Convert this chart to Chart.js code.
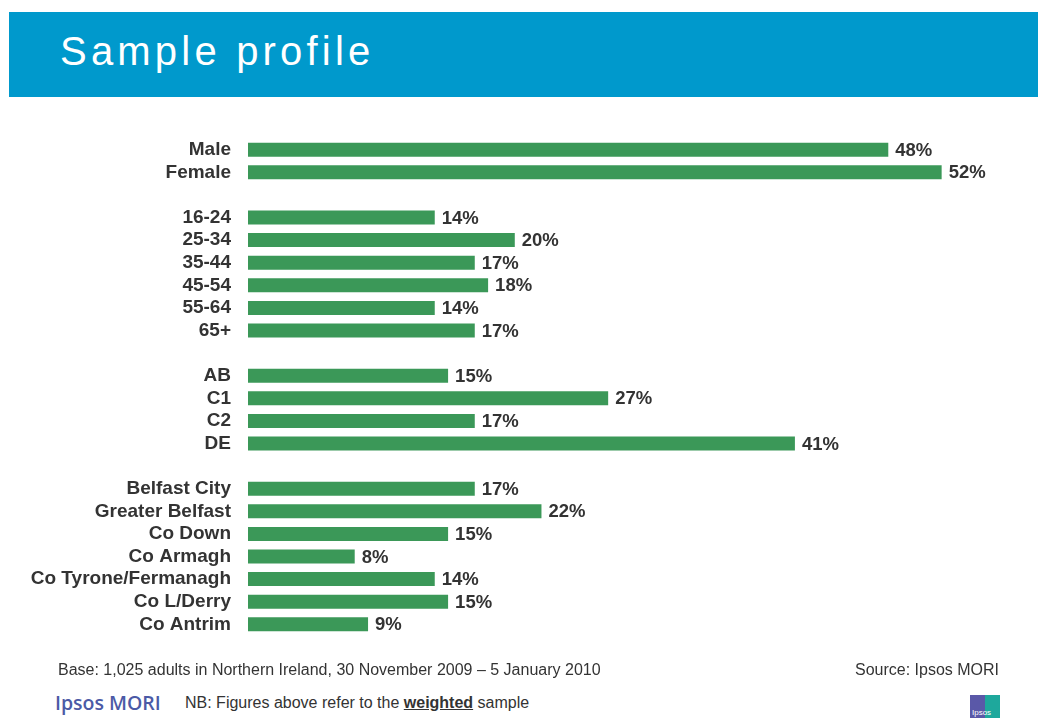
<!DOCTYPE html>
<html>
<head>
<meta charset="utf-8">
<script src="https://cdn.jsdelivr.net/npm/chart.js@4.4.1/dist/chart.umd.min.js"></script>
<style>
  html, body { margin: 0; padding: 0; background: #ffffff; width: 1038px; height: 718px; overflow: hidden; position: relative; font-family: "Liberation Sans", Arial, sans-serif; }
  #header { position: absolute; left: 9px; top: 12px; width: 1029px; height: 85px; background: #0099cc; }
  #title { position: absolute; left: 51px; top: 16px; font-family: "Liberation Sans", Arial, sans-serif; font-size: 40px; line-height: 46px; color: #ffffff; letter-spacing: 4.2px; font-weight: normal; }
  #chartWrap { position: absolute; left: 0; top: 110px; width: 1038px; height: 554px; }
  .foot { position: absolute; font-size: 16px; color: #333333; white-space: nowrap; line-height: 18px; }
  #base { left: 58px; top: 661px; }
  #source { right: 39px; top: 661px; }
  #nb { left: 185px; top: 694px; }
  #nb b { text-decoration: underline; }
  #brand { position: absolute; left: 55px; top: 691px; font-family: "Open Sans", "Liberation Sans", sans-serif; font-weight: 600; font-size: 19.5px; color: #4b5aa6; line-height: 24px; }
  #logo { position: absolute; left: 970px; top: 695px; width: 30px; height: 23px; overflow: hidden; }
  #logo .l { position: absolute; left: 0; top: 0; width: 15px; height: 23px; background: #5a58a8; }
  #logo .r { position: absolute; left: 15px; top: 0; width: 15px; height: 23px; background: #1ea89c; }
  #logo .t { position: absolute; left: 2px; top: 13px; font-size: 8px; color: #fff; font-family: "Liberation Sans", Arial, sans-serif; }
</style>
</head>
<body>
<div id="header"><div id="title">Sample profile</div></div>
<div id="chartWrap"><canvas id="c" width="1038" height="554"></canvas></div>
<div class="foot" id="base">Base: 1,025 adults in Northern Ireland, 30 November 2009 – 5 January 2010</div>
<div class="foot" id="source">Source: Ipsos MORI</div>
<div id="brand">Ipsos MORI</div>
<div class="foot" id="nb">NB: Figures above refer to the <b>weighted</b> sample</div>
<div id="logo"><div class="l"></div><div class="r"></div><div class="t">Ipsos</div></div>
<script>
// ---- Data ----
const genderLabels = ["Male", "Female"];
const genderValues = [48, 52];
const ageLabels = ["16-24", "25-34", "35-44", "45-54", "55-64", "65+"];
const ageValues = [14, 20, 17, 18, 14, 17];
const gradeLabels = ["AB", "C1", "C2", "DE"];
const gradeValues = [15, 27, 17, 41];
const regionLabels = ["Belfast City", "Greater Belfast", "Co Down", "Co Armagh", "Co Tyrone/Fermanagh", "Co L/Derry", "Co Antrim"];
const regionValues = [17, 22, 15, 8, 14, 15, 9];

// Build combined arrays with a blank spacer row between groups
const groups = [
  [genderLabels, genderValues],
  [ageLabels, ageValues],
  [gradeLabels, gradeValues],
  [regionLabels, regionValues]
];
const labels = [];
const values = [];
groups.forEach(([l, v], i) => {
  if (i > 0) { labels.push(""); values.push(null); }
  l.forEach((x, j) => { labels.push(x); values.push(v[j]); });
});

const TEXT = "#333333";
const FONT = { family: "'Liberation Sans', Arial, sans-serif", size: 19, weight: "bold" };

const valueLabels = {
  id: "valueLabels",
  afterDatasetsDraw(chart) {
    const ctx = chart.ctx;
    const meta = chart.getDatasetMeta(0);
    ctx.save();
    ctx.font = `bold 18.5px ${FONT.family}`;
    ctx.fillStyle = TEXT;
    ctx.textAlign = "left";
    ctx.textBaseline = "middle";
    meta.data.forEach((bar, i) => {
      const v = values[i];
      if (v === null || v === undefined) return;
      ctx.fillText(v + "%", bar.x + 7, bar.y + 1);
    });
    ctx.restore();
  }
};

new Chart(document.getElementById("c"), {
  type: "bar",
  data: {
    labels: labels,
    datasets: [{
      data: values,
      backgroundColor: "#3b9858",
      borderWidth: 0,
      barPercentage: 0.62,
      categoryPercentage: 1.0
    }]
  },
  options: {
    indexAxis: "y",
    responsive: false,
    animation: false,
    layout: { padding: { top: 0, bottom: 0, right: 43, left: 0 } },
    plugins: {
      legend: { display: false },
      tooltip: { enabled: false },
      title: { display: false }
    },
    scales: {
      x: {
        display: false,
        min: 0,
        max: 56
      },
      y: {
        grid: { display: false, drawTicks: false },
        border: { display: false },
        ticks: {
          color: TEXT,
          font: FONT,
          padding: 17,
          autoSkip: false
        },
        afterFit(scale) { scale.width = 248; }
      }
    }
  },
  plugins: [valueLabels]
});
</script>
</body>
</html>
